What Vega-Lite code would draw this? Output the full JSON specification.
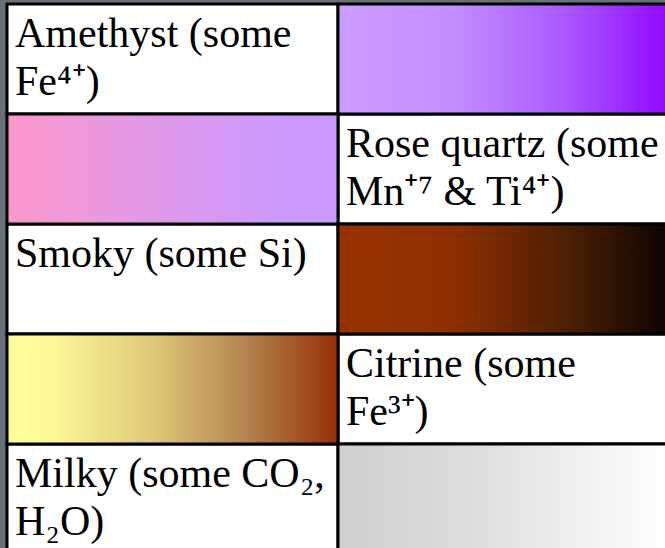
{
  "$schema": "https://vega.github.io/schema/vega-lite/v6.json",
  "width": 662,
  "height": 550,
  "autosize": {"type": "none"},
  "padding": {"left": 7, "top": 4, "right": 0, "bottom": 0},
  "background": "#68707a",
  "config": {"view": {"stroke": null}},
  "data": {
    "values": [
      {"row": 1, "col": "L", "kind": "text", "mineral": "Amethyst", "label": "Amethyst (some\nFe⁴⁺)"},
      {"row": 1, "col": "R", "kind": "swatch", "mineral": "Amethyst", "label": ""},
      {"row": 2, "col": "L", "kind": "swatch", "mineral": "Rose quartz", "label": ""},
      {"row": 2, "col": "R", "kind": "text", "mineral": "Rose quartz", "label": "Rose quartz (some\nMn⁺⁷ & Ti⁴⁺)"},
      {"row": 3, "col": "L", "kind": "text", "mineral": "Smoky", "label": "Smoky (some Si)"},
      {"row": 3, "col": "R", "kind": "swatch", "mineral": "Smoky", "label": ""},
      {"row": 4, "col": "L", "kind": "swatch", "mineral": "Citrine", "label": ""},
      {"row": 4, "col": "R", "kind": "text", "mineral": "Citrine", "label": "Citrine (some\nFe³⁺)"},
      {"row": 5, "col": "L", "kind": "text", "mineral": "Milky", "label": "Milky (some CO₂,\nH₂O)"},
      {"row": 5, "col": "R", "kind": "swatch", "mineral": "Milky", "label": ""}
    ]
  },
  "encoding": {
    "x": {"field": "col", "type": "nominal", "scale": {"domain": ["L", "R"], "paddingInner": 0, "paddingOuter": 0}, "axis": null},
    "y": {"field": "row", "type": "ordinal", "scale": {"domain": [1, 2, 3, 4, 5], "paddingInner": 0, "paddingOuter": 0}, "axis": null}
  },
  "layer": [
    {
      "transform": [{"filter": "datum.kind === 'text'"}],
      "mark": {"type": "rect", "fill": "#ffffff", "stroke": "#000000", "strokeWidth": 3}
    },
    {
      "transform": [{"filter": "datum.kind === 'swatch' && datum.mineral === 'Amethyst'"}],
      "mark": {"type": "rect", "stroke": "#000000", "strokeWidth": 3,
        "fill": {"gradient": "linear", "x1": 0, "y1": 0, "x2": 1, "y2": 0,
          "stops": [{"offset": 0, "color": "#cc9cff"}, {"offset": 0.35, "color": "#c38eff"}, {"offset": 0.7, "color": "#a856ff"}, {"offset": 1, "color": "#9208ff"}]}}
    },
    {
      "transform": [{"filter": "datum.kind === 'swatch' && datum.mineral === 'Rose quartz'"}],
      "mark": {"type": "rect", "stroke": "#000000", "strokeWidth": 3,
        "fill": {"gradient": "linear", "x1": 0, "y1": 0, "x2": 1, "y2": 0,
          "stops": [{"offset": 0, "color": "#fc98cb"}, {"offset": 0.45, "color": "#e099e8"}, {"offset": 0.8, "color": "#cc99fd"}, {"offset": 1, "color": "#ca99ff"}]}}
    },
    {
      "transform": [{"filter": "datum.kind === 'swatch' && datum.mineral === 'Smoky'"}],
      "mark": {"type": "rect", "stroke": "#000000", "strokeWidth": 3,
        "fill": {"gradient": "linear", "x1": 0, "y1": 0, "x2": 1, "y2": 0,
          "stops": [{"offset": 0, "color": "#983300"}, {"offset": 0.35, "color": "#8e2f00"}, {"offset": 0.7, "color": "#4a1f04"}, {"offset": 1, "color": "#0c0402"}]}}
    },
    {
      "transform": [{"filter": "datum.kind === 'swatch' && datum.mineral === 'Citrine'"}],
      "mark": {"type": "rect", "stroke": "#000000", "strokeWidth": 3,
        "fill": {"gradient": "linear", "x1": 0, "y1": 0, "x2": 1, "y2": 0,
          "stops": [{"offset": 0, "color": "#ffff9c"}, {"offset": 0.15, "color": "#fbf796"}, {"offset": 0.45, "color": "#dcc677"}, {"offset": 0.72, "color": "#b48450"}, {"offset": 1, "color": "#963008"}]}}
    },
    {
      "transform": [{"filter": "datum.kind === 'swatch' && datum.mineral === 'Milky'"}],
      "mark": {"type": "rect", "stroke": "#000000", "strokeWidth": 3,
        "fill": {"gradient": "linear", "x1": 0, "y1": 0, "x2": 1, "y2": 0,
          "stops": [{"offset": 0, "color": "#cfcfcf"}, {"offset": 0.4, "color": "#dddddd"}, {"offset": 1, "color": "#ffffff"}]}}
    },
    {
      "transform": [{"filter": "datum.kind === 'text'"}],
      "mark": {"type": "text", "font": "Liberation Serif", "fontSize": 42, "color": "#000000", "align": "left", "baseline": "alphabetic", "lineBreak": "\n", "lineHeight": 48, "dx": 8, "dy": 43},
      "encoding": {
        "x": {"field": "col", "type": "nominal", "bandPosition": 0},
        "y": {"field": "row", "type": "ordinal", "bandPosition": 0},
        "text": {"field": "label", "type": "nominal"}
      }
    }
  ]
}
